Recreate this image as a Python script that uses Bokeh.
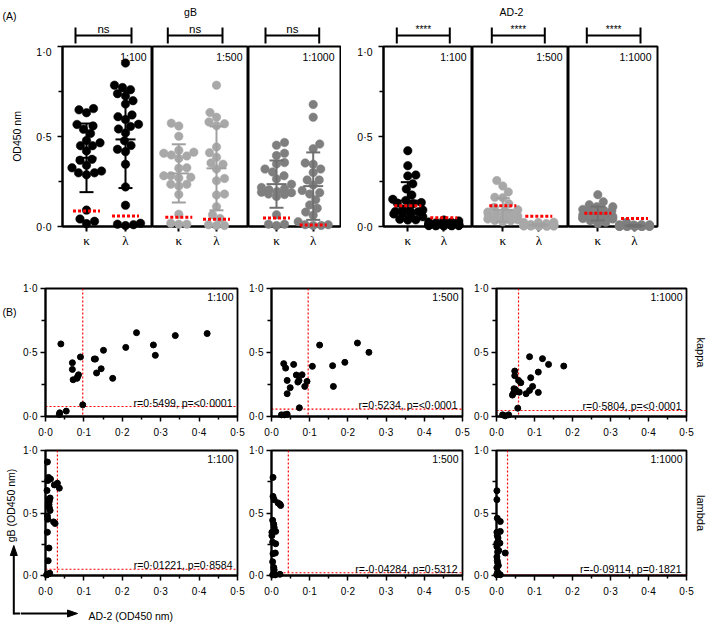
import numpy as np
from bokeh.plotting import figure
from bokeh.models import Range1d, FixedTicker, CustomJSTickFormatter, Span, LinearAxis
from bokeh.layouts import row, column
from bokeh.embed import file_html
from bokeh.resources import INLINE
from bokeh.core.properties import value

FONT = "Liberation Sans"
SERIF = "Liberation Serif"

# ---------------- data ----------------
dilutions = ["1:100", "1:500", "1:1000"]
chains = ["κ", "λ"]
chain_names = ["kappa", "lambda"]
antigens = ["gB", "AD-2"]
significance = {"gB": ["ns", "ns", "ns"], "AD-2": ["****", "****", "****"]}

# kappa: paired AD-2 / gB OD450 per serum
kappa_ad2_1_100 = [0.037, 0.036, 0.054, 0.040, 0.070, 0.070, 0.072, 0.082, 0.083, 0.086, 0.091, 0.097,
                   0.127, 0.130, 0.133, 0.145, 0.151, 0.175, 0.209, 0.237, 0.281, 0.286, 0.338, 0.421]
kappa_gb_1_100 = [0.029, 0.016, 0.042, 0.567, 0.420, 0.368, 0.287, 0.298, 0.308, 0.326, 0.465, 0.091,
                  0.449, 0.449, 0.340, 0.373, 0.517, 0.298, 0.540, 0.655, 0.559, 0.478, 0.632, 0.648]
kappa_ad2_1_500 = [0.026, 0.034, 0.041, 0.073, 0.041, 0.049, 0.041, 0.032, 0.037, 0.058, 0.065, 0.080,
                   0.069, 0.072, 0.087, 0.093, 0.107, 0.126, 0.160, 0.162, 0.192, 0.225, 0.255]
kappa_gb_1_500 = [0.013, 0.013, 0.018, 0.068, 0.178, 0.225, 0.282, 0.413, 0.378, 0.407, 0.324, 0.326,
                  0.269, 0.282, 0.235, 0.274, 0.392, 0.558, 0.397, 0.235, 0.423, 0.574, 0.501]
kappa_ad2_1_1000 = [0.016, 0.023, 0.032, 0.056, 0.048, 0.048, 0.042, 0.044, 0.046, 0.050, 0.058, 0.064,
                    0.060, 0.078, 0.087, 0.095, 0.090, 0.087, 0.110, 0.110, 0.121, 0.137, 0.177, 0.052]
kappa_gb_1_1000 = [0.013, 0.005, 0.013, 0.065, 0.355, 0.319, 0.167, 0.180, 0.217, 0.210, 0.282, 0.264,
                   0.190, 0.178, 0.204, 0.235, 0.303, 0.467, 0.347, 0.188, 0.452, 0.407, 0.394, 0.195]

# lambda: paired AD-2 / gB OD450 per serum
lambda_ad2_1_100 = [0.005, 0.008, 0.013, 0.023, 0.031, 0.036, 0.012, 0.010, 0.009, 0.010, 0.005, 0.021, 0.025,
                    0.005, 0.009, 0.007, 0.008, 0.011, 0.004, 0.006, 0.004, 0.008, 0.007, 0.012, 0.006, 0.003]
lambda_gb_1_100 = [0.908, 0.785, 0.772, 0.725, 0.738, 0.699, 0.620, 0.594, 0.568, 0.542, 0.476, 0.429, 0.416,
                   0.346, 0.220, 0.118, 0.013, 0.018, 0.010, 0.760, 0.680, 0.610, 0.556, 0.520, 0.450, 0.005]
lambda_ad2_1_500 = [0.004, 0.004, 0.007, 0.017, 0.022, 0.024, 0.003, 0.006, 0.007, 0.011, 0.001,
                    0.001, 0.003, 0.011, 0.004, 0.010, 0.003, 0.006, 0.007, 0.003, 0.010, 0.022]
lambda_gb_1_500 = [0.785, 0.633, 0.607, 0.581, 0.571, 0.560, 0.442, 0.410, 0.385, 0.353, 0.346,
                   0.319, 0.267, 0.254, 0.175, 0.180, 0.110, 0.065, 0.045, 0.005, 0.005, 0.010]
lambda_ad2_1_1000 = [0.001, 0.001, 0.002, 0.010, 0.001, 0.010, 0.002, 0.001, 0.009, 0.001, 0.003, 0.023,
                     0.001, 0.003, 0.001, 0.001, 0.010, 0.004, 0.006, 0.002, 0.005, 0.003, 0.007, 0.001]
lambda_gb_1_1000 = [0.678, 0.607, 0.458, 0.432, 0.346, 0.353, 0.319, 0.259, 0.259, 0.230, 0.188, 0.180,
                    0.149, 0.102, 0.063, 0.006, 0.006, 0.300, 0.200, 0.120, 0.080, 0.027, 0.010, 0.010]

# cut-off values (red dotted lines)
cutoff_A_gb_kappa = [0.086, 0.051, 0.047]
cutoff_A_gb_lambda = [0.058, 0.040, 0.009]
cutoff_A_ad2_kappa = [0.115, 0.115, 0.073]
cutoff_A_ad2_lambda = [0.049, 0.057, 0.044]
cutoff_B_kappa_ad2 = [0.097, 0.096, 0.058]
cutoff_B_kappa_gb = [0.078, 0.057, 0.047]
cutoff_B_lambda_ad2 = [0.031, 0.044, 0.029]
cutoff_B_lambda_gb = [0.050, 0.022, 0.004]

corr_kappa = ["r=0·5499, p=<0·0001", "r=0·5234, p=<0·0001", "r=0·5804, p=<0·0001"]
corr_lambda = ["r=0·01221, p=0·8584", "r=-0·04284, p=0·5312", "r=-0·09114, p=0·1821"]

A_ticks = [0, 0.5, 1.0]
A_minor = [0.25, 0.75]
B_xticks = [0, 0.1, 0.2, 0.3, 0.4, 0.5]
B_xminor = [0.05, 0.15, 0.25, 0.35, 0.45]

dot_colors = ["#000000", "#a8a8a8", "#7f7f7f"]
bar_colors = ["#000000", "#a0a0a0", "#707070"]

kappa_pairs = [(kappa_ad2_1_100, kappa_gb_1_100), (kappa_ad2_1_500, kappa_gb_1_500), (kappa_ad2_1_1000, kappa_gb_1_1000)]
lambda_pairs = [(lambda_ad2_1_100, lambda_gb_1_100), (lambda_ad2_1_500, lambda_gb_1_500), (lambda_ad2_1_1000, lambda_gb_1_1000)]

A_values = {
    "gB": [(kappa_pairs[k][1], lambda_pairs[k][1]) for k in range(3)],
    "AD-2": [(kappa_pairs[k][0], lambda_pairs[k][0]) for k in range(3)],
}
A_cutoffs = {
    "gB": list(zip(cutoff_A_gb_kappa, cutoff_A_gb_lambda)),
    "AD-2": list(zip(cutoff_A_ad2_kappa, cutoff_A_ad2_lambda)),
}

# ---------------- layout constants (pixels) ----------------
TOTAL_W = 709
TOP_H = 45
A_H, A_TOP, A_FH, A_BOT = 205, 1, 182, 22
A_GEOM = {
    "gB": dict(left=[62, 152, 248], width=[90, 96, 92], bl=[62, 0, 0], br=[0, 0, 1],
               pk=[86, 178.3, 276], pl=[125, 216, 312.7]),
    "AD-2": dict(left=[383, 472, 568], width=[89, 96, 89], bl=[42, 0, 0], br=[0, 0, 52],
                 pk=[407.3, 502.3, 597.3], pl=[443.3, 538.3, 634]),
}
STRIP_W = 20
B_BL, B_W, B_BR = [25, 26, 26], [192, 191, 192], [8, 8, 21]
B1_H, B1_TOP, B1_BOT = 190, 38, 24
B2_H, B2_TOP, B2_BOT = 159, 10, 22
BOTTOM_H = 23

dot_fmt = CustomJSTickFormatter(code="return tick.toFixed(1).replace('.', '\u00b7');")


def base_fig(**kw):
    p = figure(output_backend="svg", toolbar_location=None, **kw)
    p.grid.visible = False
    p.background_fill_color = "white"
    p.border_fill_color = "white"
    return p


def style_axis(ax, font_size, tick_w=1.5):
    ax.axis_line_width = 2
    ax.axis_line_color = "black"
    ax.major_tick_line_color = "black"
    ax.minor_tick_line_color = "black"
    ax.major_tick_line_width = tick_w
    ax.minor_tick_line_width = tick_w
    ax.major_tick_in = 0
    ax.minor_tick_in = 0
    ax.major_tick_out = 5
    ax.minor_tick_out = 4
    ax.major_label_text_font = FONT
    ax.major_label_text_font_size = font_size
    ax.major_label_text_color = "black"
    ax.axis_label_text_font = FONT
    ax.axis_label_text_font_style = "normal"
    ax.axis_label_text_color = "black"


def swarm_offsets(vals, ppu_y, diam=8.0, max_off=15.0, step=0.5):
    vals = np.asarray(vals, float)
    offs = np.zeros(len(vals))
    cands = np.arange(-max_off, max_off + 1e-9, step)
    pref = np.abs(cands) * 0.02
    px, py = [], []
    for n, i in enumerate(np.argsort(vals, kind="stable")):
        y = vals[i] * ppu_y
        if px:
            d = np.hypot(cands[:, None] - np.array(px)[None, :], y - np.array(py)[None, :])
            cost = np.clip(diam - d, 0, None).sum(axis=1) + pref
            cost = cost + ((cands < 0) if n % 2 else (cands > 0)) * 1e-4
            c = cands[int(np.argmin(cost))]
        else:
            c = 0.0
        offs[i] = c
        px.append(c)
        py.append(y)
    return offs


def a_panel(ag, k):
    g = A_GEOM[ag]
    W, bl, br = g["width"][k], g["bl"][k], g["br"][k]
    s = g["pl"][k] - g["pk"][k]            # pixels per category unit
    start = -(g["pk"][k] - g["left"][k]) / s
    end = start + W / s
    p = base_fig(width=bl + W + br, height=A_H, x_range=Range1d(start, end), y_range=Range1d(0, 1),
                 min_border_left=bl, min_border_right=br, min_border_top=A_TOP, min_border_bottom=A_BOT,
                 y_axis_location="left" if k == 0 else None)
    p.outline_line_color = "black"
    p.outline_line_width = 2
    xa = p.xaxis[0]
    style_axis(xa, "13px", tick_w=2)
    xa.ticker = FixedTicker(ticks=[0, 1])
    xa.major_label_overrides = {i: c for i, c in enumerate(chains)}
    xa.major_label_text_font = SERIF
    xa.minor_tick_line_color = None
    xa.major_label_standoff = 1
    if k == 0:
        ya = p.yaxis[0]
        style_axis(ya, "10.5px")
        ya.ticker = FixedTicker(ticks=A_ticks, minor_ticks=A_minor)
        ya.formatter = dot_fmt
        ya.major_label_standoff = 6
        if ag == "gB":
            ya.axis_label = "OD450 nm"
            ya.axis_label_text_font_size = "10.5px"
            ya.axis_label_standoff = 10
    col, bar = dot_colors[k], bar_colors[k]
    for ci in range(2):
        vals = np.asarray(A_values[ag][k][ci], float)
        offs = swarm_offsets(vals, A_FH)
        p.scatter(x=ci + offs / s, y=vals, size=8.5, fill_color=col, line_color=col, line_width=0.5,
                  level="overlay")
    for ci in range(2):
        vals = np.asarray(A_values[ag][k][ci], float)
        m, sd = vals.mean(), vals.std(ddof=1)
        p.segment(x0=[ci, ci - 7 / s, ci - 7 / s, ci - 10 / s], y0=[m - sd, m - sd, m + sd, m],
                  x1=[ci, ci + 7 / s, ci + 7 / s, ci + 10 / s], y1=[m + sd, m - sd, m + sd, m],
                  line_color=bar, line_width=2, level="overlay")
    for ci in range(2):
        c = A_cutoffs[ag][k][ci]
        p.segment(x0=[ci - 13.5 / s], y0=[c], x1=[ci + 13.5 / s], y1=[c],
                  line_color="#ff0000", line_width=3, line_dash="3 2", level="overlay")
    p.text(x=[end], y=[1.0], text=[dilutions[k]], x_offset=-6, y_offset=4, text_align="right",
           text_baseline="top", text_font=value(FONT), text_font_size="10.5px", text_color="black")
    return p


def make_top():
    p = base_fig(width=TOTAL_W, height=TOP_H, x_range=Range1d(0, TOTAL_W), y_range=Range1d(TOP_H, 0),
                 min_border=0, x_axis_location=None, y_axis_location=None)
    p.outline_line_color = None
    for ag in antigens:
        g = A_GEOM[ag]
        for k in range(3):
            x0, x1 = g["pk"][k] - 11, g["pl"][k] + 6
            p.segment(x0=[x0, x0, x1], y0=[35, 27, 27], x1=[x1, x0, x1], y1=[35, 43, 43],
                      line_color="black", line_width=2)
            lab = significance[ag][k]
            p.text(x=[(x0 + x1) / 2], y=[28 if lab == "ns" else 28.5], text=[lab], text_align="center",
                   text_baseline="alphabetic", text_font=value(FONT),
                   text_font_size="11.5px" if lab == "ns" else "10px", text_color="black")
    p.text(x=[2], y=[15], text=["(A)"], text_align="left", text_baseline="alphabetic",
           text_font=value(FONT), text_font_size="10.5px", text_color="black")
    p.text(x=[190, 511], y=[11, 11], text=antigens, text_align="center", text_baseline="alphabetic",
           text_font=value(FONT), text_font_size="10.5px", text_color="black")
    return p


def b_panel(pair, k, cx, cy, stat, H, top, bot, side_label):
    xv, yv = pair
    bl, W, br = B_BL[k], B_W[k], B_BR[k]
    p = base_fig(width=bl + W + br, height=H, x_range=Range1d(0, 0.5), y_range=Range1d(0, 1),
                 min_border_left=bl, min_border_right=br, min_border_top=top, min_border_bottom=bot)
    p.outline_line_color = "black"
    p.outline_line_width = 1.8
    xa, ya = p.xaxis[0], p.yaxis[0]
    style_axis(xa, "10px")
    style_axis(ya, "10px")
    xa.ticker = FixedTicker(ticks=B_xticks, minor_ticks=B_xminor)
    ya.ticker = FixedTicker(ticks=A_ticks, minor_ticks=A_minor)
    xa.minor_tick_out = 3
    xa.formatter = dot_fmt
    ya.formatter = dot_fmt
    xa.major_label_standoff = 5
    ya.major_label_standoff = 3
    p.add_layout(Span(location=cx, dimension="height", line_color="#ff0000", line_dash="2 2",
                      line_width=1.2, level="underlay"))
    p.add_layout(Span(location=cy, dimension="width", line_color="#ff0000", line_dash="2 2",
                      line_width=1.2, level="underlay"))
    p.scatter(x=xv, y=yv, size=6, fill_color="black", line_color="black", level="overlay")
    p.text(x=[0.5], y=[1.0], text=[dilutions[k]], x_offset=-4, y_offset=2, text_align="right",
           text_baseline="top", text_font=value(FONT), text_font_size="10.5px", text_color="black")
    p.text(x=[0.5], y=[cy], text=[stat], x_offset=-5, y_offset=-4 if cy > 0.01 else -6, text_align="right",
           text_baseline="alphabetic", text_font=value(FONT), text_font_size="10.5px", text_color="black")
    if side_label:
        ax = LinearAxis(ticker=FixedTicker(ticks=[]), axis_label=side_label)
        ax.axis_line_color = None
        ax.major_tick_out = 0
        ax.minor_tick_out = 0
        ax.major_label_standoff = 0
        ax.axis_label_standoff = 8
        ax.axis_label_text_font = FONT
        ax.axis_label_text_font_size = "11px"
        ax.axis_label_text_font_style = "normal"
        ax.axis_label_text_color = "black"
        p.add_layout(ax, "right")
    return p


def strip(w, h, x0=0):
    p = base_fig(width=w, height=h, x_range=Range1d(x0, x0 + w), y_range=Range1d(h, 0), min_border=0,
                 x_axis_location=None, y_axis_location=None)
    p.outline_line_color = None
    return p


# ---------------- build ----------------
top = make_top()
a_row = row([a_panel(ag, k) for ag in antigens for k in range(3)], spacing=0)

left1 = strip(STRIP_W, B1_H)
left1.text(x=[2], y=[35], text=["(B)"], text_align="left", text_baseline="alphabetic",
           text_font=value(FONT), text_font_size="10.5px", text_color="black")
b1 = [b_panel(kappa_pairs[k], k, cutoff_B_kappa_ad2[k], cutoff_B_kappa_gb[k], corr_kappa[k],
              B1_H, B1_TOP, B1_BOT, chain_names[0] if k == 2 else None) for k in range(3)]
b1_row = row([left1] + b1, spacing=0)

left2 = strip(STRIP_W, B2_H + BOTTOM_H)
left2.text(x=[10.5], y=[65], text=["gB (OD450 nm)"], angle=np.pi / 2, text_align="center",
           text_baseline="middle", text_font=value(FONT), text_font_size="10.5px", text_color="black")
left2.segment(x0=[13.3, 13.3], y0=[114, 173], x1=[13.3, 20], y1=[174, 173], line_color="black", line_width=2)
left2.patch(x=[13.3, 9.8, 16.8], y=[105, 115, 115], fill_color="black", line_color="black")

b2 = [b_panel(lambda_pairs[k], k, cutoff_B_lambda_ad2[k], cutoff_B_lambda_gb[k], corr_lambda[k],
              B2_H, B2_TOP, B2_BOT, chain_names[1] if k == 2 else None) for k in range(3)]
bottom = strip(TOTAL_W - STRIP_W, BOTTOM_H, x0=STRIP_W)
bottom.segment(x0=[STRIP_W], y0=[14], x1=[68], y1=[14], line_color="black", line_width=2)
bottom.patch(x=[77, 67, 67], y=[14, 10.5, 17.5], fill_color="black", line_color="black")
bottom.text(x=[88], y=[16], text=["AD-2 (OD450 nm)"], text_align="left", text_baseline="middle",
            text_font=value(FONT), text_font_size="10.5px", text_color="black")
b2_block = row([left2, column([row(b2, spacing=0), bottom], spacing=0)], spacing=0)

layout = column([top, a_row, b1_row, b2_block], spacing=0)

open("out.html", "w", encoding="utf-8").write(file_html(layout, INLINE))
